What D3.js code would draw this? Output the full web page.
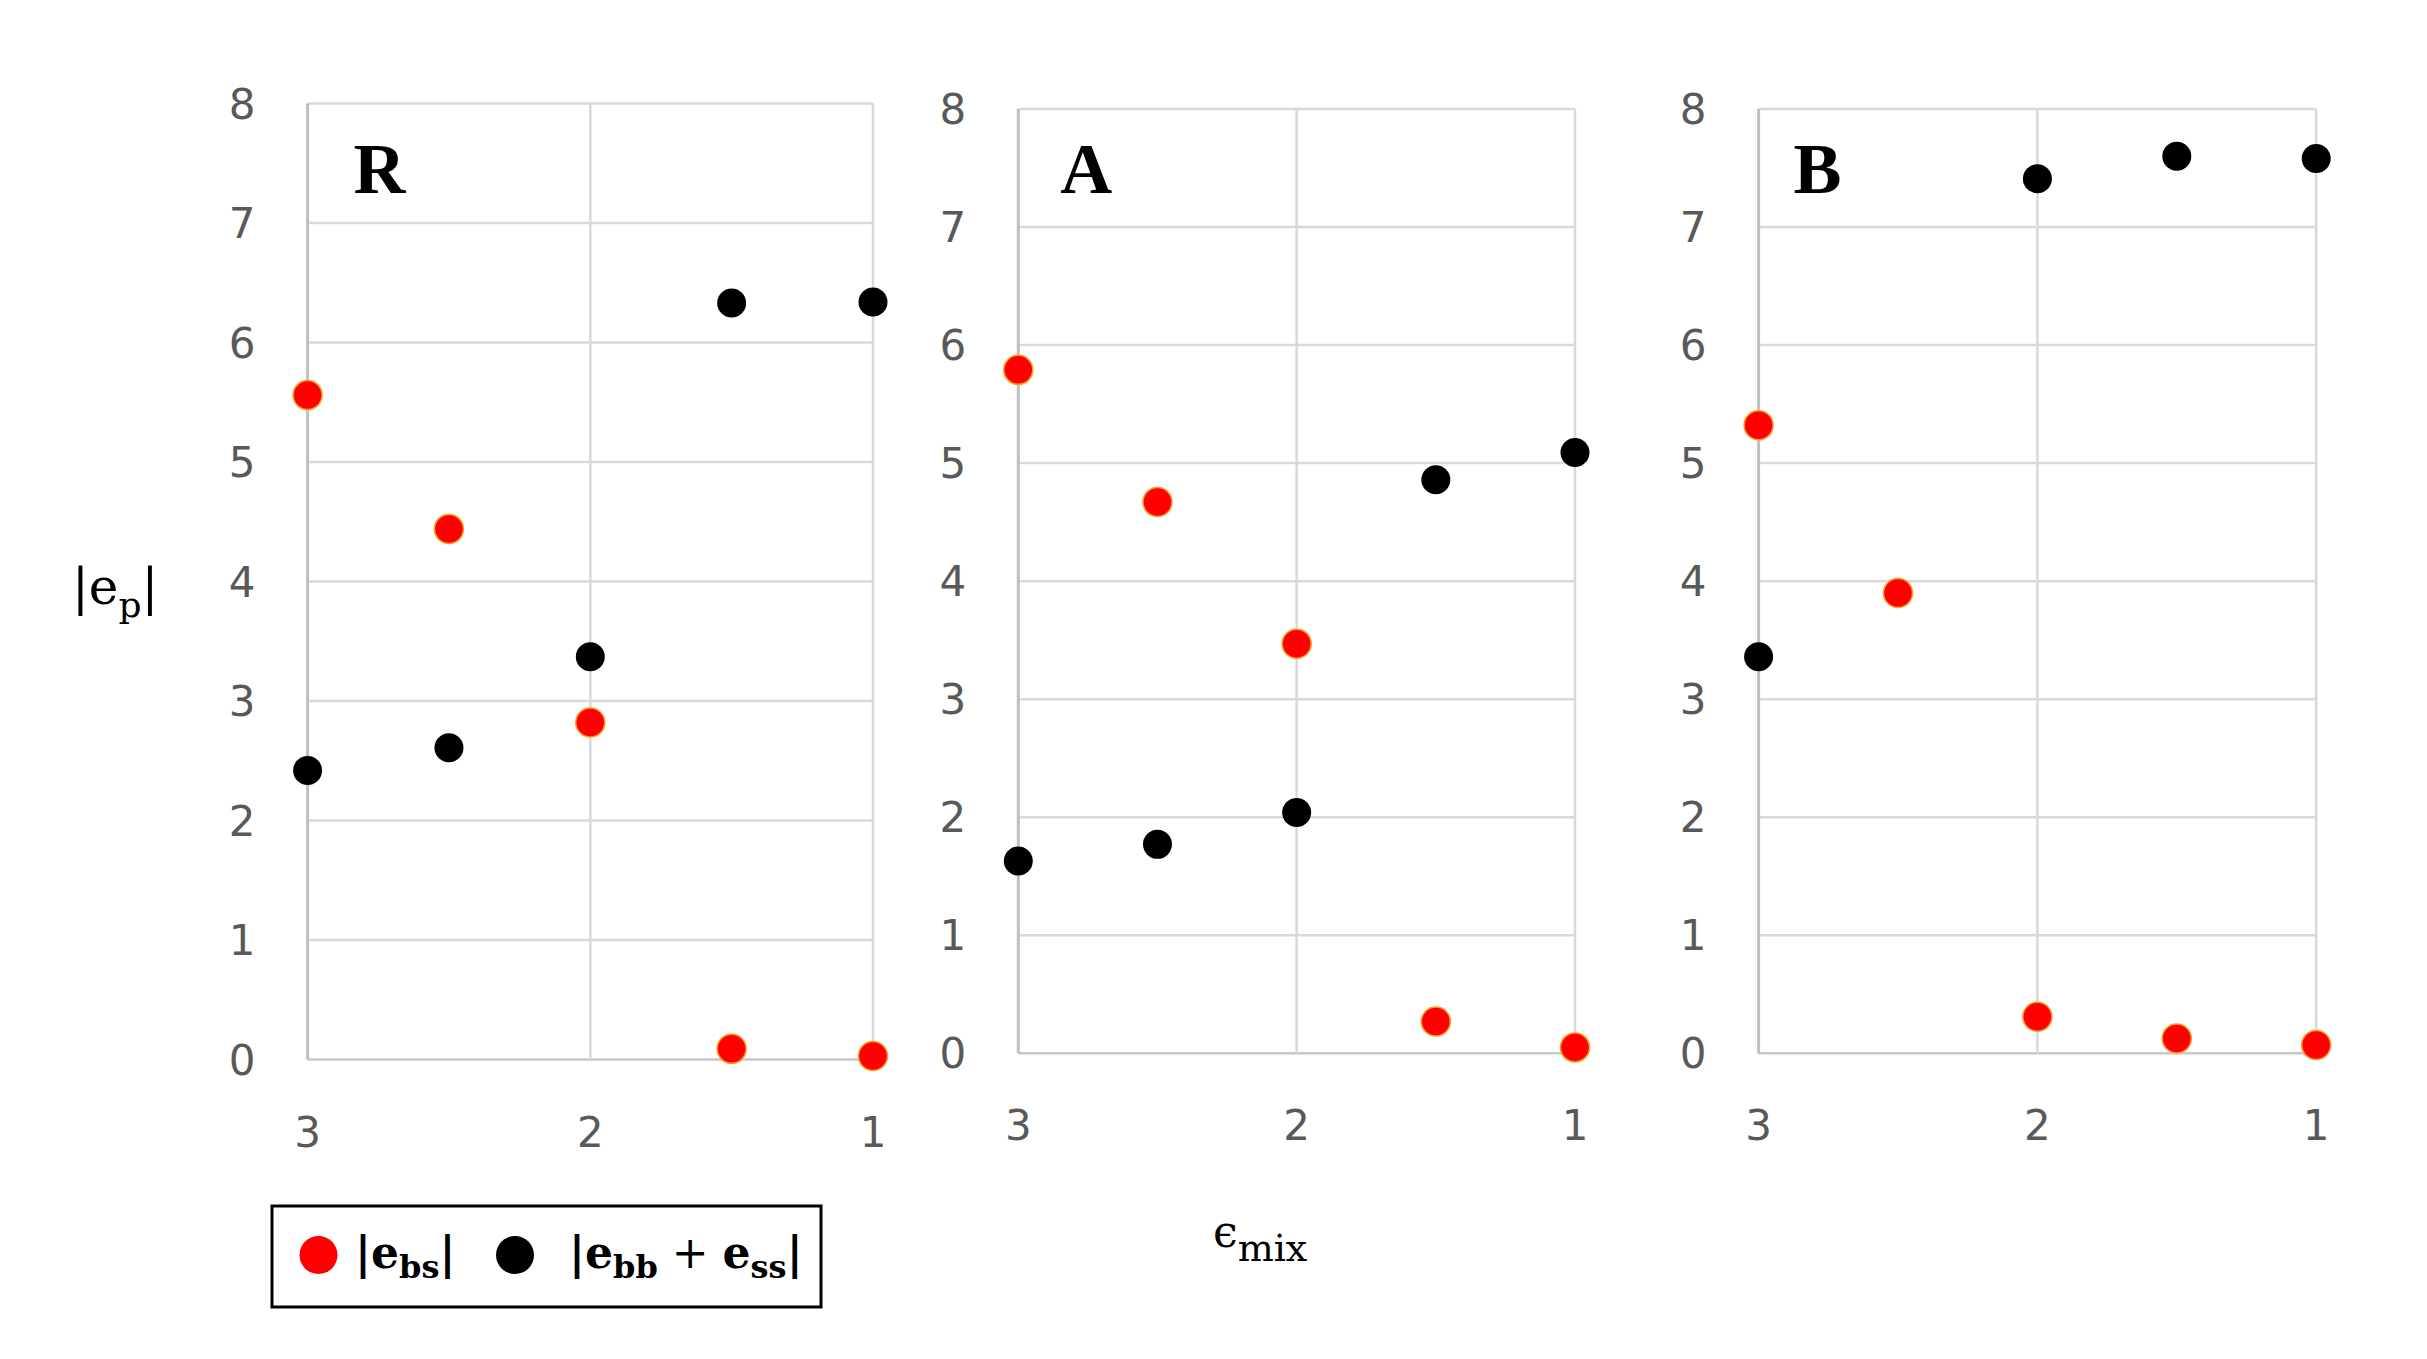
<!DOCTYPE html>
<html>
<head>
<meta charset="utf-8">
<script src="https://cdn.jsdelivr.net/npm/d3@7"></script>
<style>
  body { margin: 0; background: #fff; }
  svg { display: block; }
</style>
</head>
<body>
<div id="chart"></div>
<script>
// data (x runs 3 -> 1)
var xValues = [3, 2.5, 2, 1.5, 1];
var xTicks = [3, 2, 1];
var yTicks = [0, 1, 2, 3, 4, 5, 6, 7, 8];
var panelNames = ["R", "A", "B"];

var ebsR = [5.56, 4.44, 2.82, 0.09, 0.03];
var ebbR = [2.42, 2.61, 3.37, 6.33, 6.34];
var ebsA = [5.79, 4.67, 3.47, 0.27, 0.05];
var ebbA = [1.63, 1.77, 2.04, 4.86, 5.09];
var ebsB = [5.32, 3.90, 0.31, 0.125, 0.07];
var ebbB = [3.36, null, 7.41, 7.60, 7.58];

var redSeries = [ebsR, ebsA, ebsB];
var blackSeries = [ebbR, ebbA, ebbB];

// panel boxes in pixels
var layout = [
  {left: 307.6, right: 873, top: 103.5, bottom: 1059.6, letterDx: 46},
  {left: 1018.3, right: 1575, top: 109, bottom: 1053.3, letterDx: 42},
  {left: 1758.6, right: 2316.2, top: 109, bottom: 1053.3, letterDx: 35}
];

var W = 2427, H = 1359;
var svg = d3.select("#chart").append("svg")
  .attr("width", W).attr("height", H);
svg.append("rect").attr("width", W).attr("height", H).attr("fill", "#fff");

var tickFont = "DejaVu Sans";
var mathFont = "DejaVu Serif";

panelNames.forEach(function(name, p){
  var L = layout[p];
  var x = d3.scaleLinear().domain([3, 1]).range([L.left, L.right]);
  var y = d3.scaleLinear().domain([0, 8]).range([L.bottom, L.top]);
  var g = svg.append("g");

  // horizontal grid
  g.selectAll(".hgrid").data(yTicks).enter().append("line")
    .attr("x1", L.left).attr("x2", L.right)
    .attr("y1", d => y(d)).attr("y2", d => y(d))
    .attr("stroke", d => d === 0 ? "#c8c8c8" : "#d9d9d9")
    .attr("stroke-width", 2.5);

  // vertical grid
  g.selectAll(".vgrid").data(xTicks).enter().append("line")
    .attr("x1", d => x(d)).attr("x2", d => x(d))
    .attr("y1", L.top).attr("y2", L.bottom)
    .attr("stroke", d => d === 3 ? "#bfbfbf" : "#d9d9d9")
    .attr("stroke-width", d => d === 3 ? 3 : 2.5);

  // y tick labels
  g.selectAll(".ylab").data(yTicks).enter().append("text")
    .attr("x", L.left - 52).attr("y", d => y(d))
    .attr("dy", "0.36em")
    .attr("text-anchor", "end")
    .attr("font-family", tickFont).attr("font-size", 42)
    .attr("fill", "#595959")
    .text(d => d);

  // x tick labels
  g.selectAll(".xlab").data(xTicks).enter().append("text")
    .attr("x", d => x(d)).attr("y", L.bottom + 87)
    .attr("text-anchor", "middle")
    .attr("font-family", tickFont).attr("font-size", 42)
    .attr("fill", "#595959")
    .text(d => d);

  // panel letter
  g.append("text")
    .attr("x", L.left + L.letterDx).attr("y", 193)
    .attr("font-family", "Liberation Serif").attr("font-weight", "bold")
    .attr("font-size", 72)
    .text(name);

  var red = xValues.map((v, i) => [v, redSeries[p][i]]).filter(d => d[1] != null);
  var black = xValues.map((v, i) => [v, blackSeries[p][i]]).filter(d => d[1] != null);

  g.selectAll(".red").data(red).enter().append("circle")
    .attr("cx", d => x(d[0])).attr("cy", d => y(d[1]))
    .attr("r", 14.5)
    .attr("fill", "#ff0000")
    .attr("stroke", "#ff9a1a").attr("stroke-width", 1.5);

  g.selectAll(".black").data(black).enter().append("circle")
    .attr("cx", d => x(d[0])).attr("cy", d => y(d[1]))
    .attr("r", 14.5)
    .attr("fill", "#000");
});

// y axis title |e_p|
var yt = svg.append("text")
  .attr("x", 72).attr("y", 604)
  .attr("font-family", mathFont).attr("font-size", 50);
yt.append("tspan").text("|e");
yt.append("tspan").attr("font-size", 36).attr("dy", 13).text("p");
yt.append("tspan").attr("dy", -13).text("|");

// x axis title epsilon_mix
var xt = svg.append("text")
  .attr("x", 1213).attr("y", 1247)
  .attr("font-family", mathFont).attr("font-size", 44);
xt.append("tspan").text("\u03f5");
xt.append("tspan").attr("font-size", 38).attr("dy", 14).text("mix");

// legend
var leg = svg.append("g");
leg.append("rect")
  .attr("x", 272).attr("y", 1206).attr("width", 549).attr("height", 101)
  .attr("fill", "#fff").attr("stroke", "#000").attr("stroke-width", 3);
leg.append("circle").attr("cx", 318.5).attr("cy", 1255).attr("r", 19).attr("fill", "#ff0000");
leg.append("circle").attr("cx", 515).attr("cy", 1255).attr("r", 19).attr("fill", "#000");

var l1 = leg.append("text")
  .attr("x", 355).attr("y", 1268)
  .attr("font-family", mathFont).attr("font-weight", "bold").attr("font-size", 44);
l1.append("tspan").text("|e");
l1.append("tspan").attr("font-size", 32).attr("dy", 10).text("bs");
l1.append("tspan").attr("dy", -10).text("|");

var l2 = leg.append("text")
  .attr("x", 569).attr("y", 1268)
  .attr("font-family", mathFont).attr("font-weight", "bold").attr("font-size", 44);
l2.append("tspan").text("|e");
l2.append("tspan").attr("font-size", 32).attr("dy", 10).text("bb");
l2.append("tspan").attr("dy", -10).attr("font-weight", "normal").text(" + ");
l2.append("tspan").text("e");
l2.append("tspan").attr("font-size", 32).attr("dy", 10).text("ss");
l2.append("tspan").attr("dy", -10).text("|");
</script>
</body>
</html>
